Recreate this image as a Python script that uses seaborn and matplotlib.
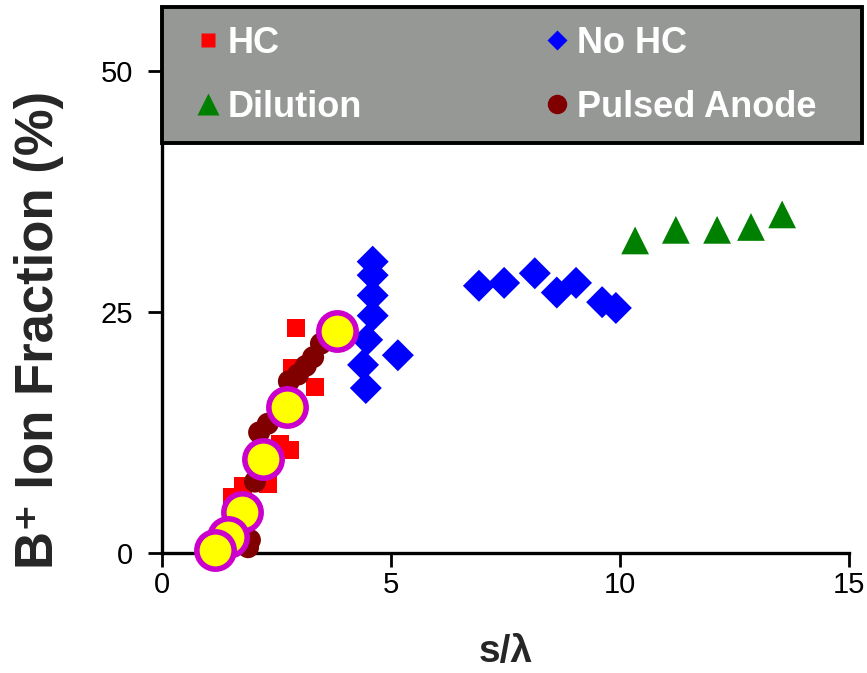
import matplotlib
matplotlib.use("Agg")
import matplotlib.pyplot as plt
from matplotlib.lines import Line2D
from matplotlib.patches import Rectangle
import pandas as pd
import seaborn as sns

# Series labels and measured points (s/lambda, B+ ion fraction in %)
series_names = ["HC", "No HC", "Dilution", "Pulsed Anode"]

hc_x = [2.93, 2.84, 3.34, 2.79, 2.58, 2.31, 1.77, 1.53]
hc_y = [23.3, 19.2, 17.2, 10.7, 11.3, 7.2, 6.9, 5.8]

nohc_x = [4.60, 4.60, 4.60, 4.60, 4.48, 4.39, 4.45, 5.15,
          6.92, 7.47, 8.14, 8.62, 9.04, 9.61, 9.91]
nohc_y = [30.2, 28.8, 26.7, 24.6, 22.1, 19.5, 17.1, 20.5,
          27.7, 28.0, 29.0, 27.0, 28.0, 26.0, 25.4]

dil_x = [10.33, 11.22, 12.12, 12.86, 13.54]
dil_y = [32.4, 33.5, 33.5, 33.8, 35.1]

pa_x = [3.47, 3.30, 3.14, 2.97, 2.77, 2.31, 2.12, 2.03, 1.92, 1.88]
pa_y = [21.7, 20.3, 19.4, 18.5, 17.8, 13.4, 12.5, 7.4, 1.35, 0.6]

# Highlighted reference points
hl_x = [3.82, 2.73, 2.21, 1.75, 1.44, 1.16]
hl_y = [23.0, 15.1, 9.74, 4.25, 1.66, 0.31]

x_ticks = [0, 5, 10, 15]
y_ticks = [0, 25, 50]

sns.set_style("white")
plt.rcParams["font.family"] = ["Liberation Sans", "DejaVu Sans"]

rows = []
for name, xs, ys in zip(series_names,
                        [hc_x, nohc_x, dil_x, pa_x],
                        [hc_y, nohc_y, dil_y, pa_y]):
    rows += [{"series": name, "s_lambda": x, "fraction": y} for x, y in zip(xs, ys)]
df = pd.DataFrame(rows)
hl = pd.DataFrame({"s_lambda": hl_x, "fraction": hl_y})

colors = {"HC": "#ff0000", "No HC": "#0000ff", "Dilution": "#008000", "Pulsed Anode": "#800000"}
markers = {"HC": "s", "No HC": "D", "Dilution": "^", "Pulsed Anode": "o"}
sizes = {"HC": 169, "No HC": 265, "Dilution": 400, "Pulsed Anode": 250}

fig = plt.figure(figsize=(8.67, 6.73), dpi=100)
fig.patch.set_facecolor("white")
ax = fig.add_axes([162 / 867, 1 - 553 / 673, 687 / 867, 546 / 673])
ax.set_facecolor("white")

sns.scatterplot(data=df, x="s_lambda", y="fraction", hue="series", style="series",
                size="series", palette=colors, markers=markers, sizes=sizes,
                linewidth=0, legend=False, ax=ax, zorder=3, clip_on=False)
sns.scatterplot(data=hl, x="s_lambda", y="fraction", s=722, color="#ffff00",
                edgecolor="#cc00cc", linewidth=4, legend=False, ax=ax,
                zorder=4, clip_on=False)

ax.set_xlim(0, 15)
ax.set_ylim(0, 56.6)
ax.set_xticks(x_ticks)
ax.set_yticks(y_ticks)
ax.set_xticklabels([str(t) for t in x_ticks])
ax.set_yticklabels([str(t) for t in y_ticks])

for side in ("top", "right"):
    ax.spines[side].set_visible(False)
for side in ("left", "bottom"):
    ax.spines[side].set_color("black")
    ax.spines[side].set_linewidth(2.4)
    ax.spines[side].set_zorder(2)

ax.tick_params(axis="both", direction="out", length=10, width=2, colors="black",
               labelsize=21, bottom=True, left=True)
ax.tick_params(axis="y", pad=11)
ax.tick_params(axis="x", pad=3)

ax.set_ylabel("B\u207a Ion Fraction (%)", fontsize=38, fontweight="bold")
ax.yaxis.set_label_coords(-0.142, 0.408)
ax.set_xlabel("s/\u03bb", fontsize=28, fontweight="bold")
ax.xaxis.set_label_coords(0.5, -0.148)

# Grey key panel across the top of the plot
ax.add_patch(Rectangle((0, 0.751), 1.019, 0.249, transform=ax.transAxes,
                       facecolor="#969896", edgecolor="black", linewidth=2.8,
                       clip_on=False, zorder=5))

legend_font = {"family": "Liberation Sans", "weight": "bold", "size": 26}


def key(marker, ms, color):
    return Line2D([], [], linestyle="none", marker=marker, markersize=ms,
                  markerfacecolor=color, markeredgecolor="none")


common = dict(loc="upper left", frameon=False, prop=legend_font, labelcolor="white",
              handlelength=1.0, handletextpad=0.05, labelspacing=0.79,
              borderpad=0, borderaxespad=0)

leg1 = ax.legend([key("s", 10, colors["HC"]), key("^", 16, colors["Dilution"])],
                 ["HC", "Dilution"],
                 bbox_to_anchor=((190 - 162) / 687, (553 - 26) / 546), **common)
leg1.set_zorder(6)
ax.add_artist(leg1)
leg2 = ax.legend([key("D", 10, colors["No HC"]), key("o", 14, colors["Pulsed Anode"])],
                 ["No HC", "Pulsed Anode"],
                 bbox_to_anchor=((539 - 162) / 687, (553 - 26) / 546), **common)
leg2.set_zorder(6)

fig.savefig("out.png", dpi=100)
